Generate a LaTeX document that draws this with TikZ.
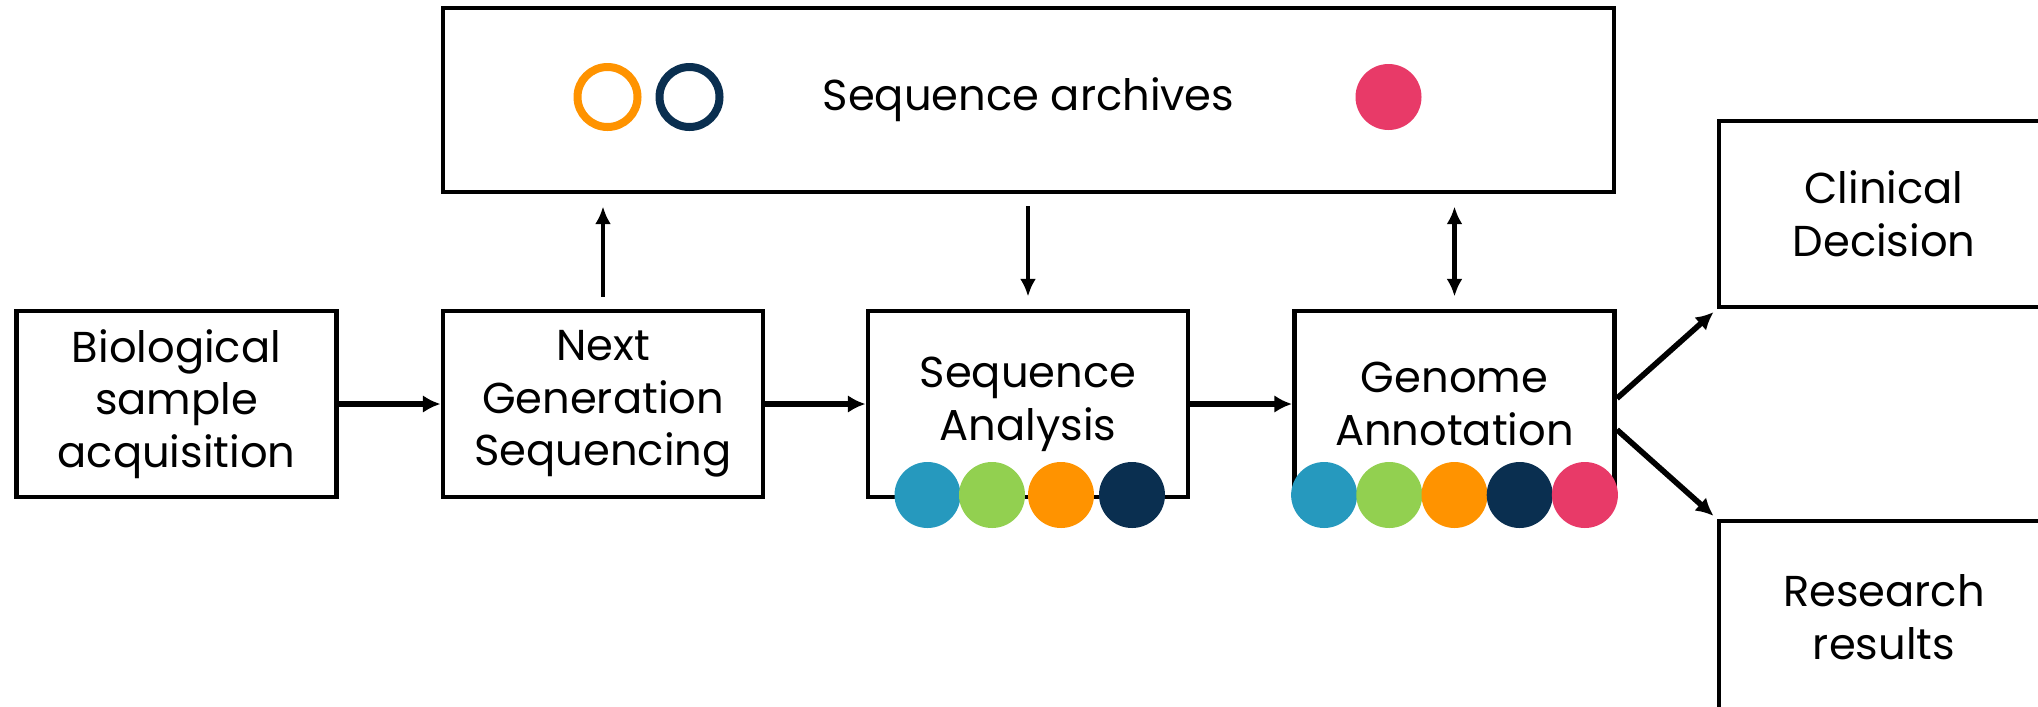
\documentclass[tikz,border=0pt]{standalone}
\usepackage{fontspec}
\setmainfont{Poppins}
\usetikzlibrary{shapes,arrows,arrows.meta,calc,positioning}

\definecolor{seqteal}{HTML}{2699BE}
\definecolor{seqgreen}{HTML}{92D050}
\definecolor{seqorange}{HTML}{FF9300}
\definecolor{seqnavy}{HTML}{0A2F50}
\definecolor{seqpink}{HTML}{E83A68}

\tikzset{
  stage/.style={draw, line width=1.4pt, minimum width=3.2cm, minimum height=1.86cm,
    align=center, inner sep=0pt, font=\fontsize{12.3}{15}\selectfont},
  flow/.style={line width=1.6pt, -{Latex[length=5pt,width=5pt]}},
  link/.style={line width=1.3pt, -{Latex[length=5pt,width=4.5pt]}},
  dot/.style={circle, minimum size=0.66cm, inner sep=0pt},
  ring/.style={circle, minimum size=0.6cm, inner sep=0pt, line width=0.08cm},
}

\begin{document}
\begin{tikzpicture}
\useasboundingbox (0,0) rectangle (20.38,7.06);

% pipeline
\node[stage] (bio) at (1.765,3.02) {Biological\\sample\\acquisition};
\node[stage] (ngs) at (6.03,3.02) {Next\\Generation\\Sequencing};
\node[stage] (sa) at (10.28,3.02) {Sequence\\Analysis};
\node[stage] (ga) at (14.545,3.02) {Genome\\Annotation};
\node[stage, minimum width=11.71cm, minimum height=1.84cm] (arch) at (10.285,6.06) {Sequence archives};
\node[stage, minimum width=3.3cm] (clin) at (18.84,4.92) {Clinical\\Decision};
\node[stage, minimum width=3.3cm, minimum height=1.92cm] (res) at (18.84,0.89) {Research\\results};

% data sets
\node[ring, draw=seqorange] (archA) at (6.075,6.09) {};
\node[ring, draw=seqnavy] (archB) at (6.895,6.09) {};
\node[dot, fill=seqpink] (archC) at (13.885,6.09) {};
\foreach \x/\c [count=\i] in {9.275/seqteal,9.92/seqgreen,10.61/seqorange,11.32/seqnavy}
  \node[dot, fill=\c] (sa\i) at (\x,2.11) {};
\foreach \c [count=\i] in {seqteal,seqgreen,seqorange,seqnavy,seqpink}
  \node[dot, fill=\c] (ga\i) at ({14.545+0.652*(\i-3)},2.11) {};

% arrows
\draw[flow] (bio) -- (ngs);
\draw[flow] (ngs) -- (sa);
\draw[flow] (sa) -- (ga);
\draw[link, shorten <=0.12cm, shorten >=0.12cm] (ngs.north) -- (ngs.north |- arch.south);
\draw[link, shorten <=0.12cm, shorten >=0.12cm] (sa.north |- arch.south) -- (sa.north);
\draw[link, {Latex[length=5pt,width=4.5pt]}-{Latex[length=5pt,width=4.5pt]}, shorten <=0.12cm, shorten >=0.12cm] (ga.north) -- (ga.north |- arch.south);
\draw[flow, shorten >=0.04cm] (ga.2.5) -- (clin.south west);
\draw[flow, shorten >=0.04cm] (ga.-9) -- (res.north west);
\end{tikzpicture}
\end{document}
